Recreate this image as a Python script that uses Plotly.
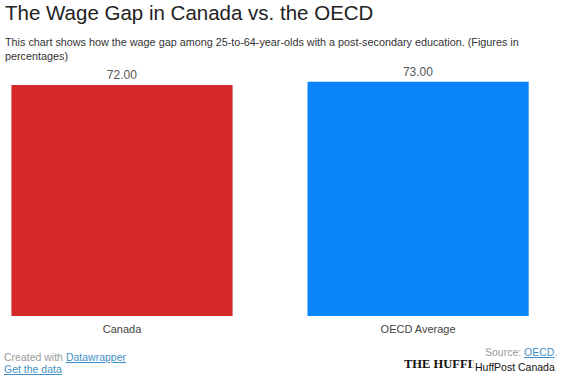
import plotly.graph_objects as go

categories = ["Canada", "OECD Average"]
values = [72.00, 73.00]
colors = ["#d52828", "#0a84fb"]
value_labels = ["72.00", "73.00"]

FONT = "Liberation Sans, Arial, sans-serif"
W, H = 562, 375
PLOT_TOP, PLOT_BOTTOM = 60, 316


def px(x):
    return x / W


def py(y):
    return (PLOT_BOTTOM - y) / (PLOT_BOTTOM - PLOT_TOP)


fig = go.Figure()
fig.add_trace(go.Bar(
    x=categories, y=values,
    marker=dict(color=colors, line=dict(width=0)),
    width=0.747,
    text=value_labels, textposition="outside",
    textfont=dict(family=FONT, size=12, color="#555555"),
    cliponaxis=False,
    hoverinfo="skip",
))

fig.update_layout(
    width=W, height=H,
    margin=dict(l=0, r=0, t=PLOT_TOP, b=H - PLOT_BOTTOM),
    paper_bgcolor="white", plot_bgcolor="white",
    showlegend=False,
    xaxis=dict(range=[-0.412, 1.486], showgrid=False, zeroline=False, showline=False,
               ticks="", ticklabelstandoff=5,
               tickfont=dict(family=FONT, size=11, color="#444444")),
    yaxis=dict(range=[0, 79.8], visible=False, fixedrange=True),
    font=dict(family=FONT),
)


def note(text, x, y, size, color, anchor="left", family=FONT, **kw):
    fig.add_annotation(text=text, xref="paper", yref="paper",
                       x=px(x), y=py(y), xanchor=anchor, yanchor="middle",
                       showarrow=False, align=anchor,
                       font=dict(family=family, size=size, color=color), **kw)


note("The Wage Gap in Canada vs. the OECD", 3, 12, 20.5, "#222222")
note("This chart shows how the wage gap among 25-to-64-year-olds with a post-secondary education. (Figures in",
     3, 42, 10.8, "#333333")
note("percentages)", 3, 56, 10.8, "#333333")
note("Created with <span style='color:#3f8fc6'><u>Datawrapper</u></span>", 2, 357, 10.5, "#999999")
note("<u>Get the data</u>", 2, 369, 10.5, "#3f8fc6")
note("Source: <span style='color:#3f8fc6'><u>OECD</u></span>.", 559, 352, 10.5, "#999999", anchor="right")
note("<b>THE HUFFINGTON POST</b>", 402, 364, 12.5, "#111111", family="Liberation Serif, Times New Roman, serif")
note("HuffPost Canada", 557, 367, 10.5, "#111111", anchor="right", bgcolor="white", borderpad=1)

fig.write_html("out.html", config={"displayModeBar": False},
               post_script="document.body.style.margin='0';")
